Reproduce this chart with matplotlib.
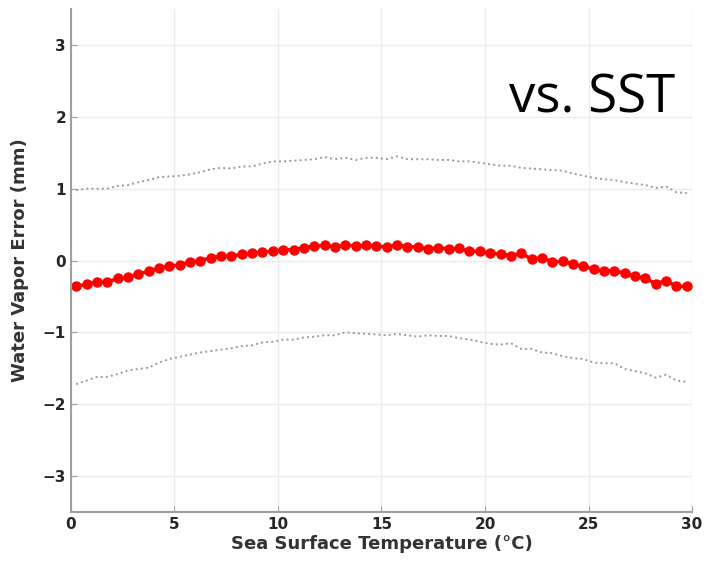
import numpy as np
import matplotlib.pyplot as plt

# bin centres (deg C)
sst = np.arange(0.25, 30.0, 0.5)

mean_err = [-0.36, -0.33, -0.30, -0.30, -0.25, -0.23, -0.19, -0.15, -0.10, -0.08,
            -0.06, -0.02, 0.00, 0.04, 0.06, 0.06, 0.09, 0.10, 0.12, 0.13,
            0.15, 0.15, 0.18, 0.20, 0.21, 0.19, 0.22, 0.20, 0.21, 0.20,
            0.19, 0.22, 0.19, 0.19, 0.16, 0.18, 0.16, 0.17, 0.13, 0.13,
            0.10, 0.09, 0.07, 0.10, 0.02, 0.04, -0.02, -0.01, -0.05, -0.08,
            -0.12, -0.15, -0.14, -0.18, -0.22, -0.25, -0.32, -0.28, -0.36, -0.36]

upper = [0.98, 1.00, 1.00, 1.00, 1.04, 1.05, 1.09, 1.12, 1.16, 1.17,
         1.18, 1.20, 1.23, 1.27, 1.29, 1.28, 1.31, 1.31, 1.35, 1.38,
         1.38, 1.39, 1.40, 1.41, 1.44, 1.41, 1.43, 1.40, 1.43, 1.43,
         1.41, 1.45, 1.41, 1.41, 1.41, 1.40, 1.40, 1.38, 1.38, 1.36,
         1.34, 1.32, 1.32, 1.29, 1.28, 1.27, 1.26, 1.25, 1.21, 1.18,
         1.15, 1.13, 1.12, 1.09, 1.07, 1.05, 1.01, 1.03, 0.95, 0.94]

lower = [-1.72, -1.67, -1.62, -1.62, -1.58, -1.53, -1.51, -1.49, -1.42, -1.37,
         -1.34, -1.31, -1.28, -1.26, -1.24, -1.22, -1.19, -1.18, -1.14, -1.13,
         -1.10, -1.10, -1.07, -1.06, -1.04, -1.04, -1.00, -1.01, -1.02, -1.03,
         -1.04, -1.02, -1.04, -1.06, -1.04, -1.05, -1.05, -1.08, -1.10, -1.13,
         -1.16, -1.17, -1.15, -1.23, -1.23, -1.28, -1.29, -1.33, -1.36, -1.37,
         -1.42, -1.43, -1.43, -1.51, -1.54, -1.57, -1.63, -1.59, -1.67, -1.69]

fig = plt.figure(figsize=(7.07, 5.67), dpi=100)
ax = fig.add_axes([0.1004, 0.097, 0.8784, 0.887])

ax.plot(sst, upper, ':', color='#9a9a9a', lw=1.4)
ax.plot(sst, lower, ':', color='#9a9a9a', lw=1.4)
ax.plot(sst, mean_err, '-o', color='red', lw=2.5, ms=6.5, mec='red')

ax.set_xlim(0, 30)
ax.set_ylim(-3.5, 3.5)
ax.set_xticks(range(0, 31, 5))
ax.set_yticks(range(-3, 4))
ax.grid(True, color='#ebebeb', lw=1)
ax.set_axisbelow(True)

for s in ['top', 'right']:
    ax.spines[s].set_visible(False)
for s in ['left', 'bottom']:
    ax.spines[s].set_color('#a0a0a0')
    ax.spines[s].set_linewidth(1.5)

ax.tick_params(direction='in', length=4, color='#a0a0a0', labelcolor='#262626',
               labelsize=11)
for lbl in ax.get_xticklabels() + ax.get_yticklabels():
    lbl.set_fontweight('bold')

ax.set_xlabel('Sea Surface Temperature (°C)', fontsize=13, fontweight='bold',
              color='#333333', labelpad=2)
ax.set_ylabel('Water Vapor Error (mm)', fontsize=13, fontweight='bold',
              color='#333333', labelpad=10)

fig.text(0.838, 0.825, 'vs. SST', fontsize=38, family='Open Sans',
         ha='center', va='center', color='black')

fig.savefig('out.png')
